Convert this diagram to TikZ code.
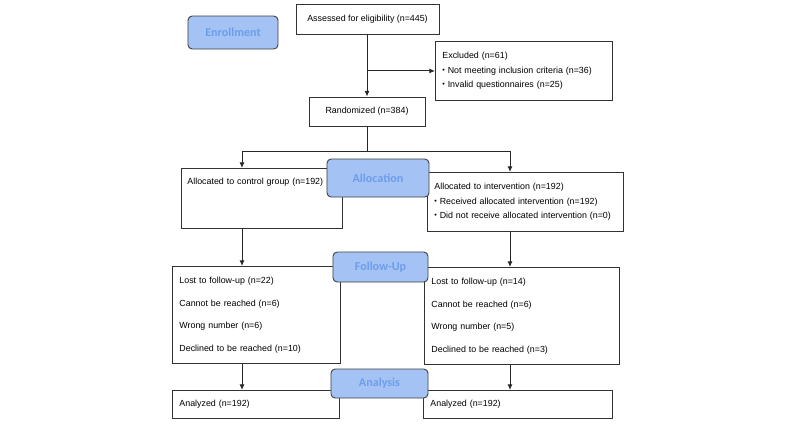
\documentclass[tikz,border=0pt]{standalone}
\usepackage{fontspec}
\setmainfont{Liberation Sans}
\newfontfamily\phasefont{Carlito}
\usetikzlibrary{arrows.meta}
\definecolor{phasefill}{HTML}{A4C2F4}
\definecolor{phasetext}{HTML}{6D9EEB}
\newcommand{\bul}{\raisebox{0.2ex}{\scalebox{0.8}{\textbullet}}\hspace{2pt}}

\tikzset{
  box/.style={draw=black!80, line width=0.65pt, fill=white, inner xsep=0.175cm, font=\fontsize{6.3}{10.3}\selectfont},
  listbox/.style={box, anchor=north west, align=left},
  phase/.style={draw=black!75, line width=0.65pt, fill=phasefill, rounded corners=3pt, text=phasetext, font=\phasefont\fontsize{8.6}{10}\selectfont\bfseries},
  flow/.style={draw=black!85, line width=0.7pt, -{Latex[length=4pt,width=3.5pt]}},
}

\begin{document}
\begin{tikzpicture}[x=0.025cm, y=-0.025cm]
  \useasboundingbox[fill=white] (0,0) rectangle (800,423);

  % enrollment
  \node[box, minimum width=3.575cm, minimum height=0.75cm] (assessed) at (367.5,19) {Assessed for eligibility (n=445)};
  \node[listbox, text width=4.075cm, minimum height=1.475cm] (excluded) at (435,41)
    {Excluded (n=61)\\ \bul Not meeting inclusion criteria (n=36)\\ \bul Invalid questionnaires (n=25)};
  \node[box, minimum width=2.9cm, minimum height=0.725cm] (randomized) at (367,111.5) {Randomized (n=384)};

  % allocation
  \node[listbox, text width=3.725cm, inner xsep=0.15cm, inner ysep=0.1cm, text height=0.3cm, text depth=1.0cm] (control) at (181,168)
    {Allocated to control group (n=192)};
  \node[listbox, text width=4.55cm, minimum height=1.475cm] (intervention) at (427,172)
    {Allocated to intervention (n=192)\\ \bul Received allocated intervention (n=192)\\ \bul Did not receive allocated intervention (n=0)};

  % follow-up
  \node[listbox, text width=3.85cm, minimum height=2.425cm] (followL) at (172,266)
    {Lost to follow-up (n=22)\\[5.7pt] Cannot be reached (n=6)\\[5.7pt] Wrong number (n=6)\\[5.7pt] Declined to be reached (n=10)};
  \node[listbox, text width=4.525cm, minimum height=2.425cm] (followR) at (424,267)
    {Lost to follow-up (n=14)\\[5.7pt] Cannot be reached (n=6)\\[5.7pt] Wrong number (n=5)\\[5.7pt] Declined to be reached (n=3)};

  % analysis
  \node[listbox, text width=3.825cm, minimum height=0.7cm] (analyzedL) at (172,390) {Analyzed (n=192)};
  \node[listbox, text width=4.375cm, minimum height=0.7cm] (analyzedR) at (423,390) {Analyzed (n=192)};

  % phase labels
  \node[phase, minimum width=2.25cm, minimum height=0.825cm] (enrollment) at (233,32.5) {Enrollment};
  \node[phase, minimum width=2.55cm, minimum height=0.95cm] (allocation) at (378,178) {\raisebox{-2pt}{Allocation}};
  \node[phase, minimum width=2.375cm, minimum height=0.75cm] (followup) at (380.5,267) {Follow-Up};
  \node[phase, minimum width=2.425cm, minimum height=0.725cm] (analysis) at (379.5,383.5) {Analysis};

  % columns
  \coordinate (leftcol) at (242,0);
  \coordinate (rightcol) at (510,0);
  \coordinate (split) at (367,151);

  % arrows
  \draw[flow] (assessed.south -| split) -- (randomized.north -| split);
  \draw[flow] (split |- excluded.west) -- (excluded.west);
  \draw[draw=black!85, line width=0.7pt] (randomized.south -| split) -- (split);
  \draw[flow] (split) -| (control.north -| leftcol);
  \draw[flow] (split) -| (intervention.north -| rightcol);
  \draw[flow] (control.south -| leftcol) -- (followL.north -| leftcol);
  \draw[flow] (intervention.south -| rightcol) -- (followR.north -| rightcol);
  \draw[flow] (followL.south -| leftcol) -- (analyzedL.north -| leftcol);
  \draw[flow] (followR.south -| rightcol) -- (analyzedR.north -| rightcol);
\end{tikzpicture}
\end{document}
